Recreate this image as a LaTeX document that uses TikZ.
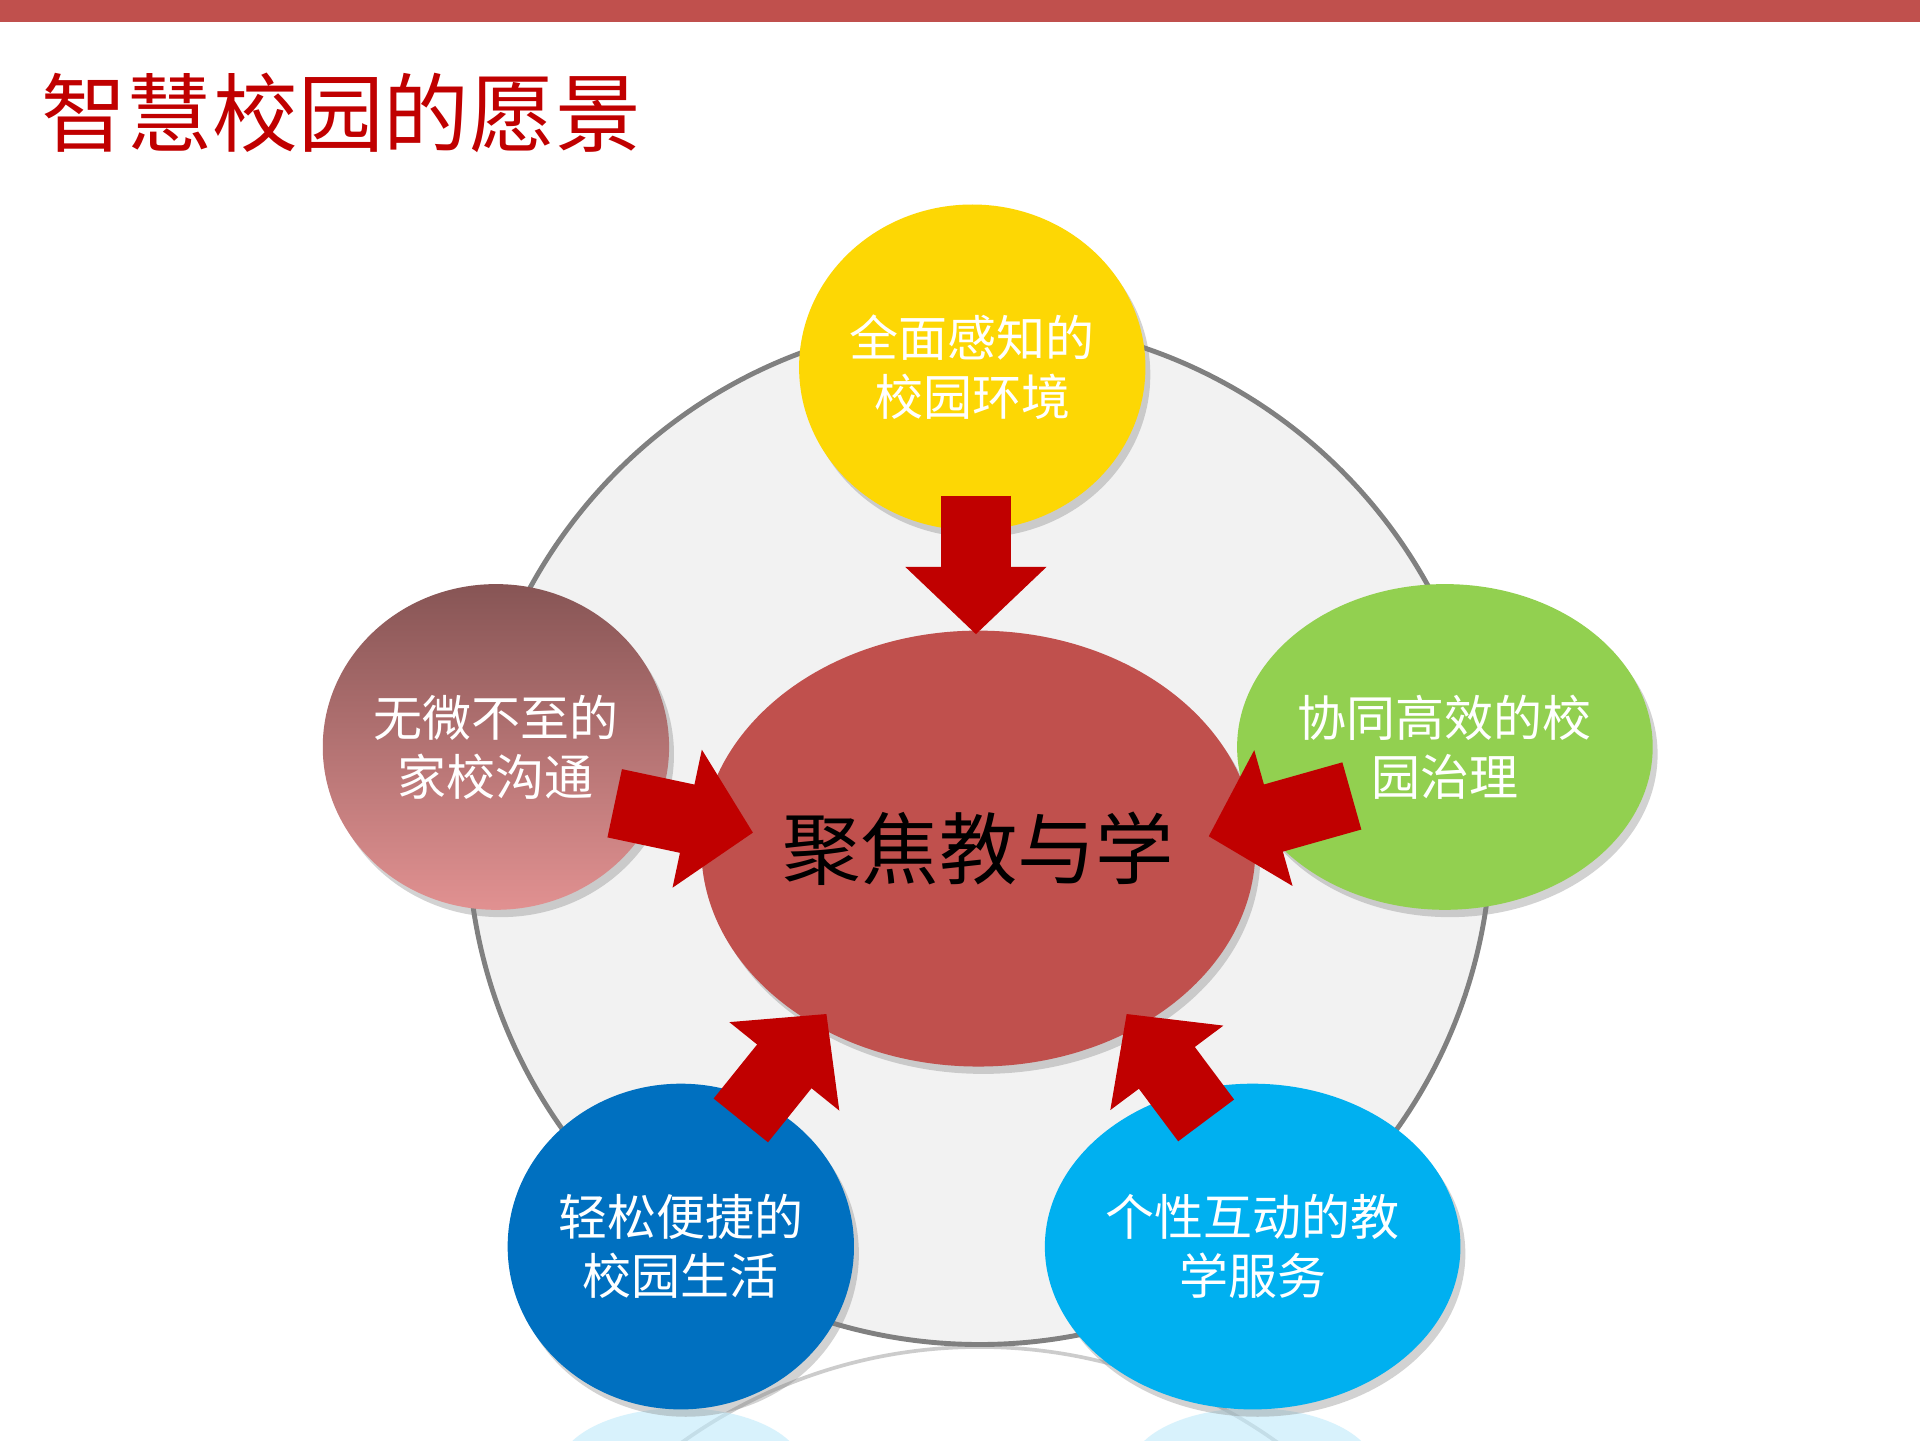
\documentclass[tikz,border=0pt]{standalone}
\usepackage{fontspec}
\setmainfont{Noto Sans CJK SC}
\usetikzlibrary{shapes.geometric,arrows.meta,shadows}
\definecolor{barred}{HTML}{C0504D}
\definecolor{titlered}{HTML}{C00000}
\definecolor{arrowred}{HTML}{C00000}
\tikzset{
 bub/.style={ellipse,minimum width=280pt,minimum height=266pt,inner sep=0pt,align=center,text=white,font=\fontsize{40}{48}\selectfont,drop shadow={opacity=0.35,shadow xshift=4pt,shadow yshift=-6pt}},
 bigarrow/.style={draw=arrowred,line width=57pt,-{Triangle[width=112pt,length=55pt]}}
}
\begin{document}
\begin{tikzpicture}[x=1pt,y=-1pt]
\useasboundingbox (0,0) rectangle (1568,1176);
\fill[white] (0,0) rectangle (1568,1176);
\fill[barred] (0,0) rectangle (1568,18);
\node[anchor=west,text=titlered,font=\fontsize{70}{80}\selectfont] (title) at (30,92) {智慧校园的愿景};
% reflection
\begin{scope}
\clip (0,1100) rectangle (1568,1176);
\draw[gray!40,line width=3pt] (800,1518) circle (418);
\fill[cyan!25,opacity=0.6] (556,1200) ellipse (100 and 50);
\fill[cyan!25,opacity=0.6] (1023,1200) ellipse (100 and 50);
\end{scope}
\node[circle,minimum size=836pt,fill=black!5,draw=black!50,line width=4pt] (ring) at (800,680) {};
\node[bub,fill=barred,minimum width=372pt,minimum height=356pt,text=black,font=\fontsize{64}{70}\selectfont] (c) at (799,693) {聚焦教与学};
\node[bub,fill=yellow!75!orange] (t) at (794,300) {全面感知的\\校园环境};
\node[bub,fill={rgb,255:red,146;green,208;blue,80}] (r) at (1180,610) {协同高效的校\\园治理};
\node[bub,top color={rgb,255:red,135;green,85;blue,85},bottom color={rgb,255:red,225;green,145;blue,145}] (l) at (405,610) {无微不至的\\家校沟通};
\node[bub,fill={rgb,255:red,0;green,112;blue,192}] (bl) at (556,1018) {轻松便捷的\\校园生活};
\node[bub,fill={rgb,255:red,0;green,176;blue,240}] (br) at (1023,1018) {个性互动的教\\学服务};
\coordinate (a1) at (797,405); \coordinate (a1e) at (797,518);
\coordinate (a2) at (502,656); \coordinate (a2e) at (615,680);
\coordinate (a3) at (1104,650); \coordinate (a3e) at (987,683);
\coordinate (a4) at (605,915); \coordinate (a4e) at (675,828);
\coordinate (a5) at (985,915); \coordinate (a5e) at (920,828);
\draw[bigarrow] (a1) -- (a1e);
\draw[bigarrow] (a2) -- (a2e);
\draw[bigarrow] (a3) -- (a3e);
\draw[bigarrow] (a4) -- (a4e);
\draw[bigarrow] (a5) -- (a5e);
\end{tikzpicture}
\end{document}
